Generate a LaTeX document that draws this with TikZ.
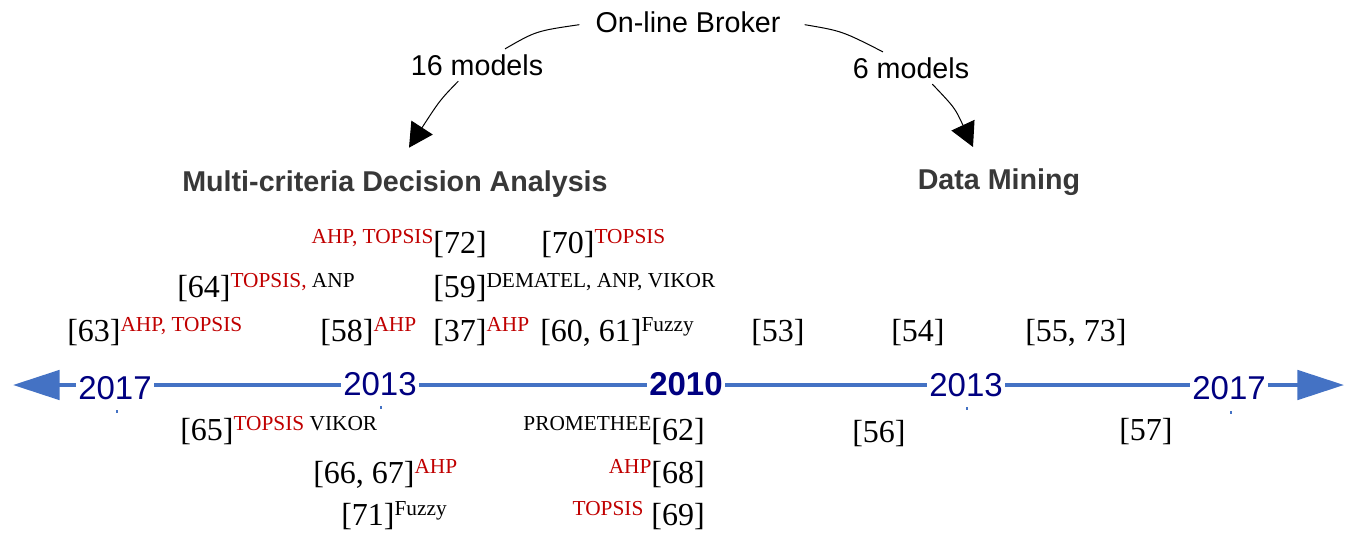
\documentclass[tikz,border=0pt]{standalone}
\usepackage{fontspec}
\setmainfont{Liberation Serif}
\setsansfont{Liberation Sans}
\usetikzlibrary{arrows.meta}
\definecolor{lineblue}{RGB}{68,114,196}
\definecolor{yearblue}{RGB}{0,0,128}
\definecolor{methred}{RGB}{192,0,0}
\definecolor{headgray}{RGB}{56,56,56}
\newcommand\meth[1]{\raisebox{7pt}{\fontsize{16}{16}\selectfont #1}}
\newcommand\rmeth[1]{\meth{\color{methred}#1}}

\begin{document}
\begin{tikzpicture}[x=0.75pt,y=-0.75pt,
    label/.style={font=\sffamily\fontsize{21.5}{22}\selectfont,inner sep=4pt},
    head/.style={font=\sffamily\bfseries\fontsize{21.5}{22}\selectfont,text=headgray,inner sep=2pt},
    yr/.style={font=\sffamily\fontsize{24.75}{25}\selectfont,text=yearblue,fill=white,inner xsep=1.5pt,inner ysep=0pt},
    ref/.style={font=\fontsize{24}{24}\selectfont,inner sep=0pt,anchor=base west},
    lref/.style={ref,anchor=base east},
    conn/.style={line width=0.75pt},
    tip/.style={conn,-{Triangle[length=18pt,width=19pt]}}]
        \useasboundingbox (0,0) rectangle (1346,536);
        \node[label,inner xsep=12pt] (broker) at (688,22) {On-line Broker};
        \node[label] (m16) at (477,65) {16 models};
        \node[label] (m6) at (911,68) {6 models};
        \node[head] (mcda) at (395,184) {Multi-criteria Decision Analysis};
        \node[head] (dm) at (999,182) {Data Mining};
        \draw[conn] ([yshift=-2pt]broker.west) .. controls (536,31) .. ([xshift=21pt]m16.north);
        \draw[tip] ([xshift=-14pt]m16.south) .. controls (440,100) .. ([xshift=10.5pt,yshift=15pt]mcda.north);
        \draw[conn] ([xshift=6pt,yshift=-2pt]broker.east) .. controls (842,31) .. ([xshift=-21pt]m6.north);
        \draw[tip] ([xshift=16pt]m6.south) .. controls (955,108) .. ([xshift=-19.5pt,yshift=14pt]dm.north);

        \coordinate (tl) at (13,385);
        \coordinate (tr) at (1344,385);
        \draw[lineblue,line width=3pt,{Triangle[length=35pt,width=22pt]}-{Triangle[length=35pt,width=22pt]}] (tl) -- (tr);
        \node[yr] (y17l) at (115,388) {2017};
        \node[yr] (y13l) at (380,384) {2013};
        \node[yr,font=\sffamily\bfseries\fontsize{24.75}{25}\selectfont] (y10) at (686,384) {2010};
        \node[yr] (y13r) at (966,385) {2013};
        \node[yr] (y17r) at (1229,388) {2017};
        \foreach \x/\y in {116/410,380/406,966/407,1230/411}
            \fill[lineblue] (\x,\y) rectangle ++(1.5,3);

        \node[lref] (r72) at (487,253) {\rmeth{AHP, TOPSIS}[72]};
        \node[ref] (r70) at (541,253) {[70]\rmeth{TOPSIS}};
        \node[ref] (r64) at (177,297) {[64]\meth{{\color{methred}TOPSIS,} ANP}};
        \node[ref] (r59) at (433,297) {[59]\meth{DEMATEL, ANP, VIKOR}};
        \node[ref] (r63) at (67,341) {[63]\rmeth{AHP, TOPSIS}};
        \node[ref] (r58) at (320,341) {[58]\rmeth{AHP}};
        \node[ref] (r37) at (433,341) {[37]\rmeth{AHP}};
        \node[ref] (r60) at (540,341) {[60, 61]\meth{Fuzzy}};
        \node[ref] (r53) at (751,341) {[53]};
        \node[ref] (r54) at (891,341) {[54]};
        \node[ref] (r55) at (1025,341) {[55, 73]};
        \node[ref] (r65) at (180,440) {[65]\meth{{\color{methred}TOPSIS} VIKOR}};
        \node[lref] (r62) at (705,440) {\meth{PROMETHEE}[62]};
        \node[ref] (r56) at (852,442) {[56]};
        \node[ref] (r57) at (1119,440) {[57]};
        \node[ref] (r66) at (313,483) {[66, 67]\rmeth{AHP}};
        \node[lref] (r68) at (705,483) {\rmeth{AHP}[68]};
        \node[ref] (r71) at (341,525) {[71]\meth{Fuzzy}};
        \node[lref] (r69) at (705,525) {\rmeth{TOPSIS} [69]};
\end{tikzpicture}
\end{document}
